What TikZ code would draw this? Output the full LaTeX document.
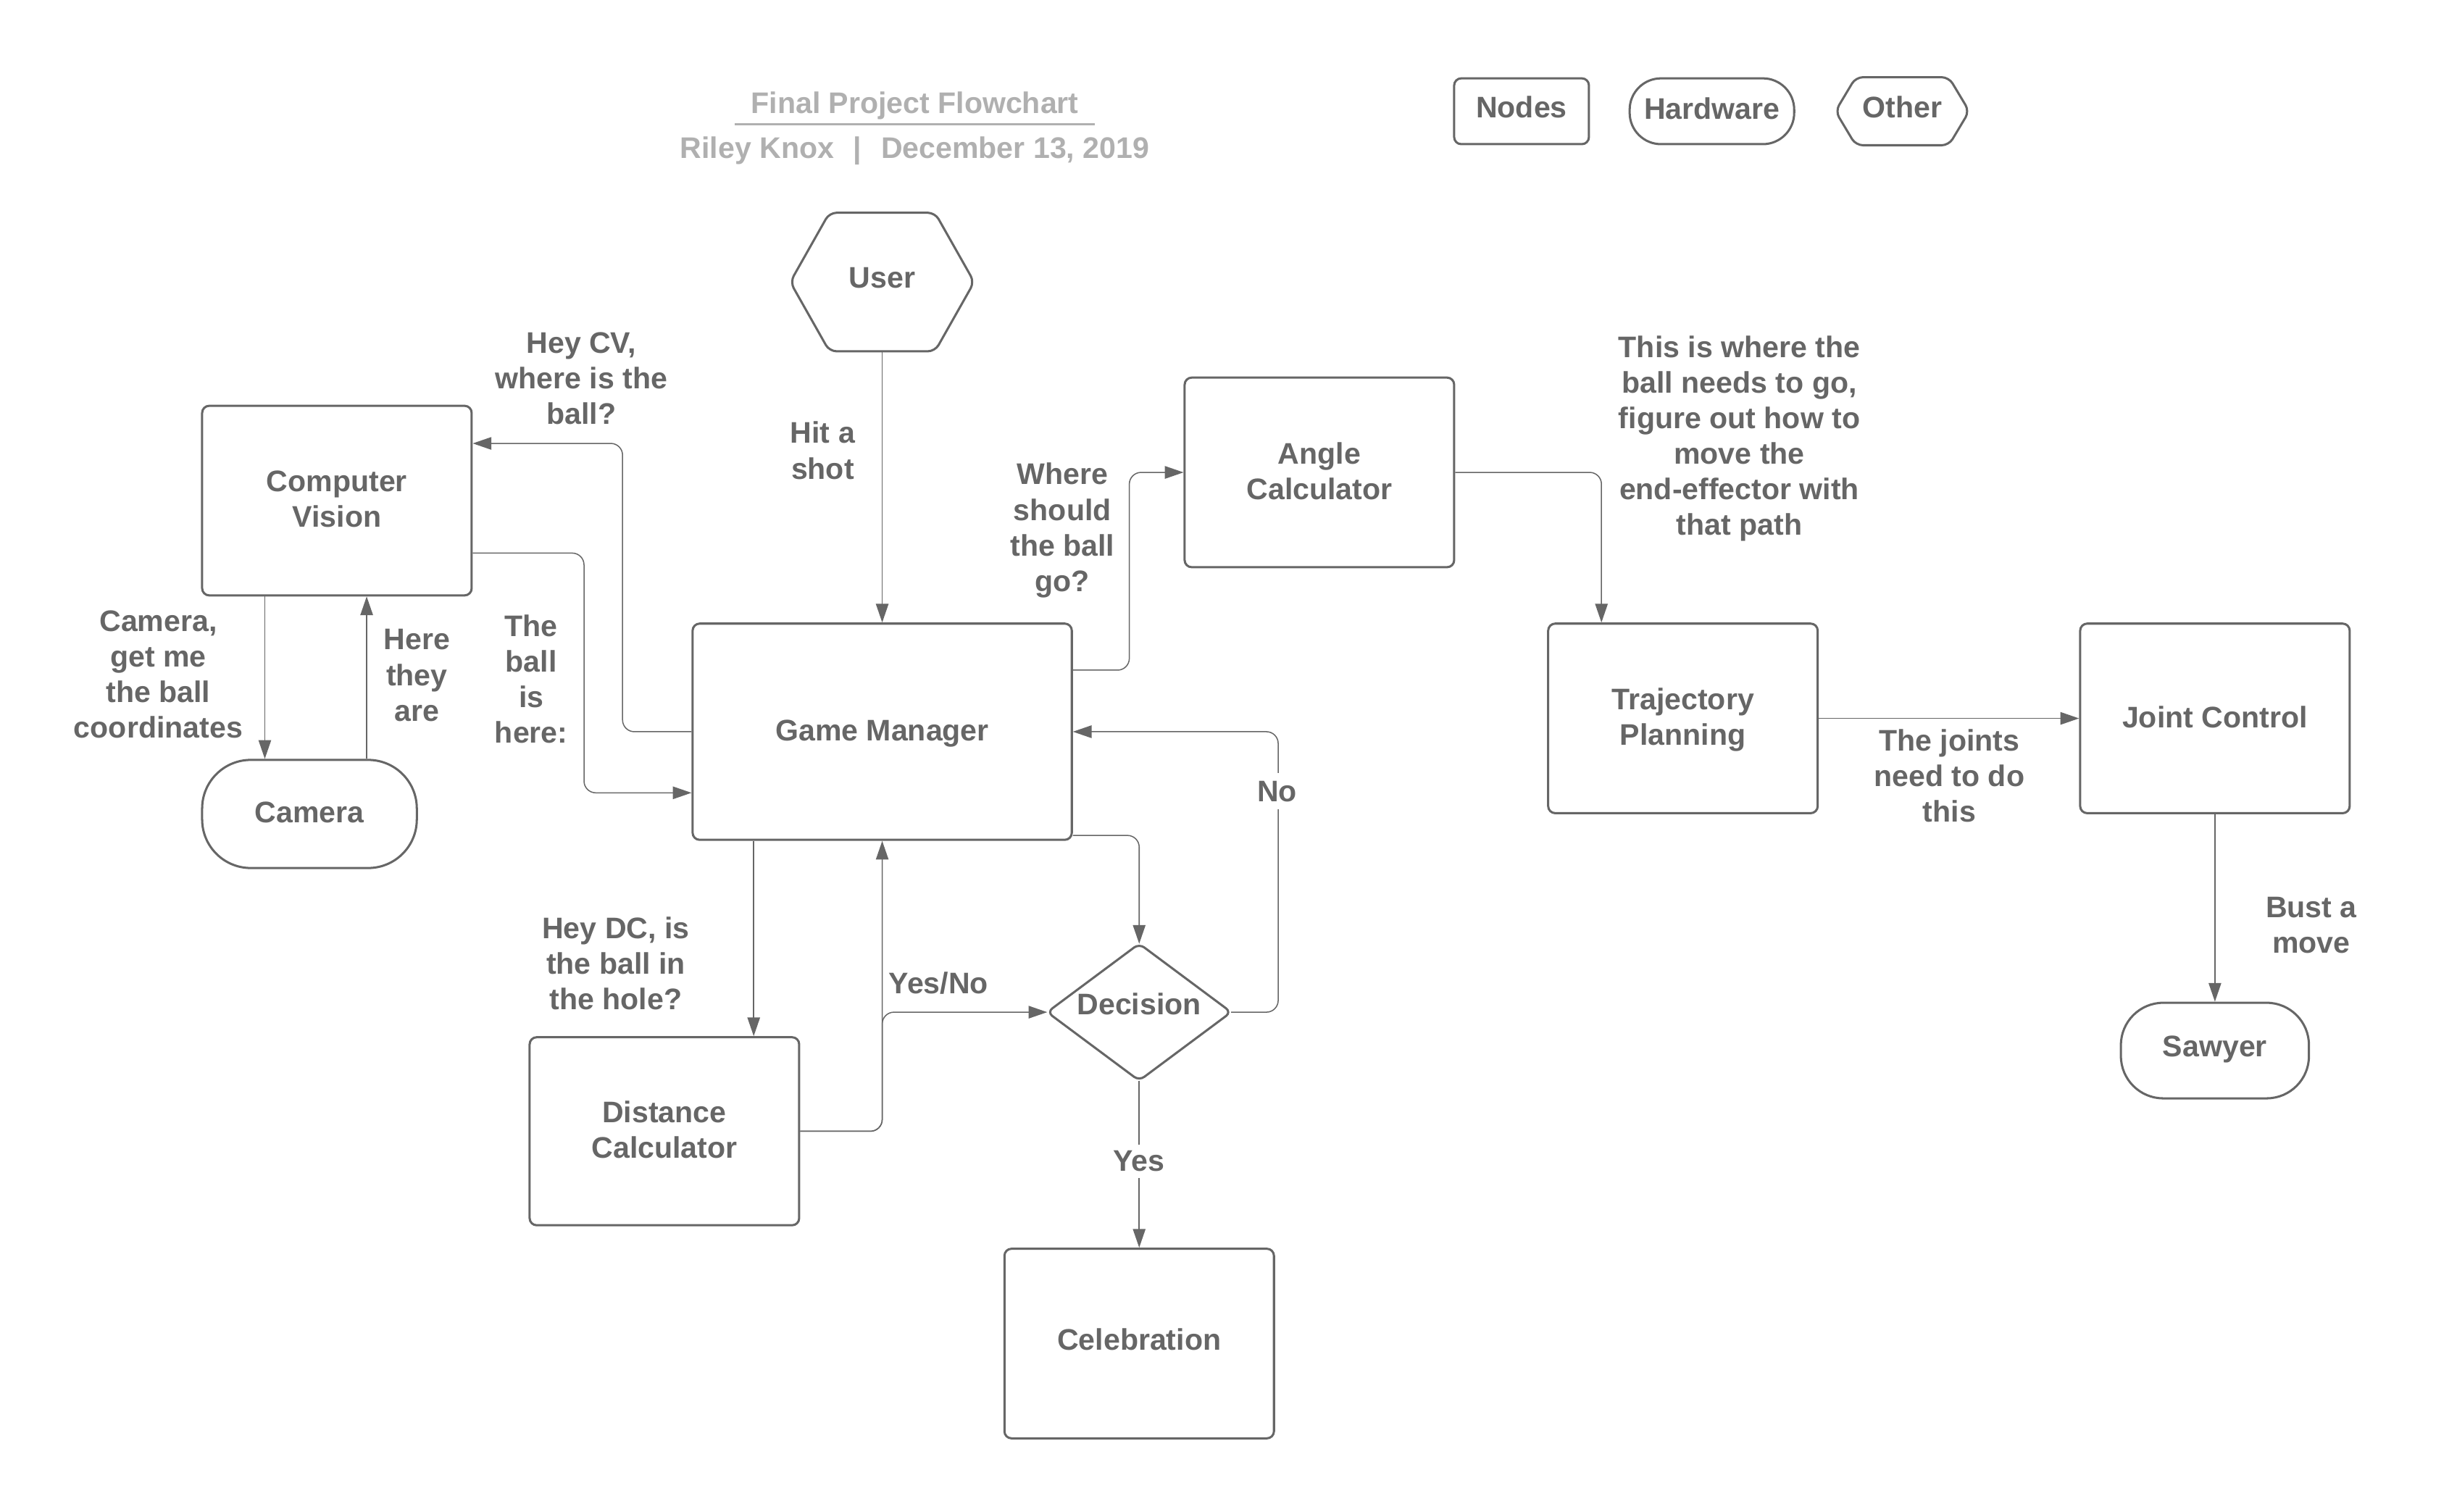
\documentclass[tikz,border=0pt]{standalone}
\usepackage{fontspec}
\setmainfont{Liberation Sans}
\newfontfamily\titlefont{Liberation Sans}
\usetikzlibrary{arrows.meta}
\definecolor{ink}{HTML}{666666}
\definecolor{titlegray}{HTML}{B0B0B0}
\tikzset{
  every node/.style={text=ink, font=\bfseries\fontsize{19}{22.7}\selectfont},
  box/.style={draw=ink, line width=1.4pt, rounded corners=4.5pt, minimum width=172pt,
    minimum height=121pt, inner sep=2pt, align=center, text depth=2pt},
  hexnode/.style={inner sep=2pt, outer sep=0.7pt, align=center, text depth=5.5pt},
  shapeline/.style={draw=ink, line width=1.4pt, rounded corners=4.5pt},
  conn/.style={draw=ink, line width=0.7pt, rounded corners=7.5pt,
    -{Triangle[length=11.9pt,width=8pt]}},
  lbl/.style={align=center, inner sep=1pt},
  cutlbl/.style={align=center, fill=white, inner xsep=3pt, inner ysep=5pt},
  titlefnt/.style={text=titlegray, inner sep=0pt,
    font=\titlefont\bfseries\fontsize{19}{22}\selectfont}
}
\begin{document}
\begin{tikzpicture}[x=1pt,y=-1pt]
\fill[white] (0,0) rectangle (1568,964.6);
\path[use as bounding box] (0,0) rectangle (1568,964.6);

% title block
\node[titlefnt, anchor=base] (ttl) at (583.8,72.2) {Final Project Flowchart};
\node[titlefnt, anchor=base] (sub) at (583.8,100.9) {Riley Knox\hspace{0.65em}|\hspace{0.65em}December 13, 2019};
\draw[titlegray, line width=1.2pt] ([xshift=-10pt,yshift=-7.2pt]ttl.base west) -- ([xshift=10pt,yshift=-7.2pt]ttl.base east);

% legend
\node[box, text depth=5.5pt, minimum width=86pt, minimum height=42pt] (lgN) at (971,71) {Nodes};
\node[box, text depth=4pt, minimum width=105pt, minimum height=42pt, rounded corners=20pt] (lgH) at (1092.5,71) {Hardware};
\node[hexnode, minimum width=84pt, minimum height=42pt] (lgO) at (1214,71) {Other};
\draw[shapeline] (lgO.west) -- ([xshift=13pt]lgO.north west) -- ([xshift=-13pt]lgO.north east)
  -- (lgO.east) -- ([xshift=-13pt]lgO.south east) -- ([xshift=13pt]lgO.south west) -- cycle;

% main nodes
\node[box] (CV) at (215,319.5) {Computer\\Vision};
\node[box, minimum width=137pt, minimum height=69pt, rounded corners=31pt] (Cam) at (197.5,519.5) {Camera};
\node[box, minimum width=242pt, minimum height=138pt] (GM) at (563,467) {Game Manager};
\node[box] (AC) at (842,301.5) {Angle\\Calculator};
\node[box] (TP) at (1074,458.5) {Trajectory\\Planning};
\node[box] (JC) at (1413.5,458.5) {Joint Control};
\node[box, text depth=5.5pt, minimum width=120pt, minimum height=61pt, rounded corners=27pt] (Saw) at (1413.5,670.5) {Sawyer};
\node[box, minimum height=120pt] (DC) at (424,722) {Distance\\Calculator};
\node[box, text depth=5.5pt] (Cel) at (727,857.5) {Celebration};
\node[hexnode, minimum width=116pt, minimum height=87pt] (User) at (563,180) {User};
\draw[shapeline] (User.west) -- ([xshift=25pt]User.north west) -- ([xshift=-25pt]User.north east)
  -- (User.east) -- ([xshift=-25pt]User.south east) -- ([xshift=25pt]User.south west) -- cycle;
\node[hexnode, minimum width=116pt, minimum height=86pt, text depth=11pt] (Dec) at (727,646) {Decision};
\draw[shapeline, rounded corners=4pt] (Dec.west) -- (Dec.north) -- (Dec.east) -- (Dec.south) -- cycle;

% connectors
\draw[conn] (User) -- (GM);
\draw[conn] (GM.west) -- ++(-44,0) |- ([yshift=36.5pt]CV.east);
\draw[conn] ([yshift=-33.5pt]CV.east) -- ++(71,0) |- ([yshift=-39pt]GM.west);
\draw[conn] ([xshift=-46pt]CV.south) -- ([xshift=-28.5pt]Cam.north);
\draw[conn] ([xshift=36.5pt]Cam.north) -- ([xshift=19pt]CV.south);
\draw[conn] ([yshift=39.3pt]GM.east) -- ++(36,0) |- (AC.west);
\draw[conn] (AC.east) -| ([xshift=-52pt]TP.north);
\draw[conn] (TP) -- (JC);
\draw[conn] (JC) -- (Saw);
\draw[conn] ([xshift=-82pt]GM.south) -- ([xshift=57pt]DC.north);
\draw[conn] (DC.east) -| (GM.south);
\draw[conn] (DC.east) -| (GM.south |- Dec.west) -- (Dec.west);
\draw[conn] ([yshift=-66.2pt]GM.east) -| (Dec.north);
\draw[conn] (Dec.east) -- ++(30,0) |- (GM.east);
\draw[conn] (Dec) -- (Cel);

% labels
\node[lbl] (lHit) at (525,287.5) {Hit a\\shot};
\node[lbl] (lCV) at (371,241.5) {Hey CV,\\where is the\\ball?};
\node[lbl] (lHere) at (339,433.5) {The\\ball\\is\\here:};
\node[lbl] (lCam) at (101,430.5) {Camera,\\get me\\the ball\\coordinates};
\node[lbl] (lThey) at (266,431) {Here\\they\\are};
\node[lbl] (lWhere) at (678,338.5) {Where\\should\\the ball\\go?};
\node[lbl] (lPath) at (1110,280) {This is where the\\ball needs to go,\\figure out how to\\move the\\end-effector with\\that path};
\node[lbl] (lJoint) at (1244,495) {The joints\\need to do\\this};
\node[lbl] (lBust) at (1475,590.5) {Bust a\\move};
\node[lbl] (lDC) at (393,615) {Hey DC, is\\the ball in\\the hole?};
\node[lbl] (lYN) at (599,627.5) {Yes/No};
\node[cutlbl] (lNo) at (815,505) {No};
\node[cutlbl, inner ysep=4pt] (lYes) at (727,741) {Yes};
\end{tikzpicture}
\end{document}
